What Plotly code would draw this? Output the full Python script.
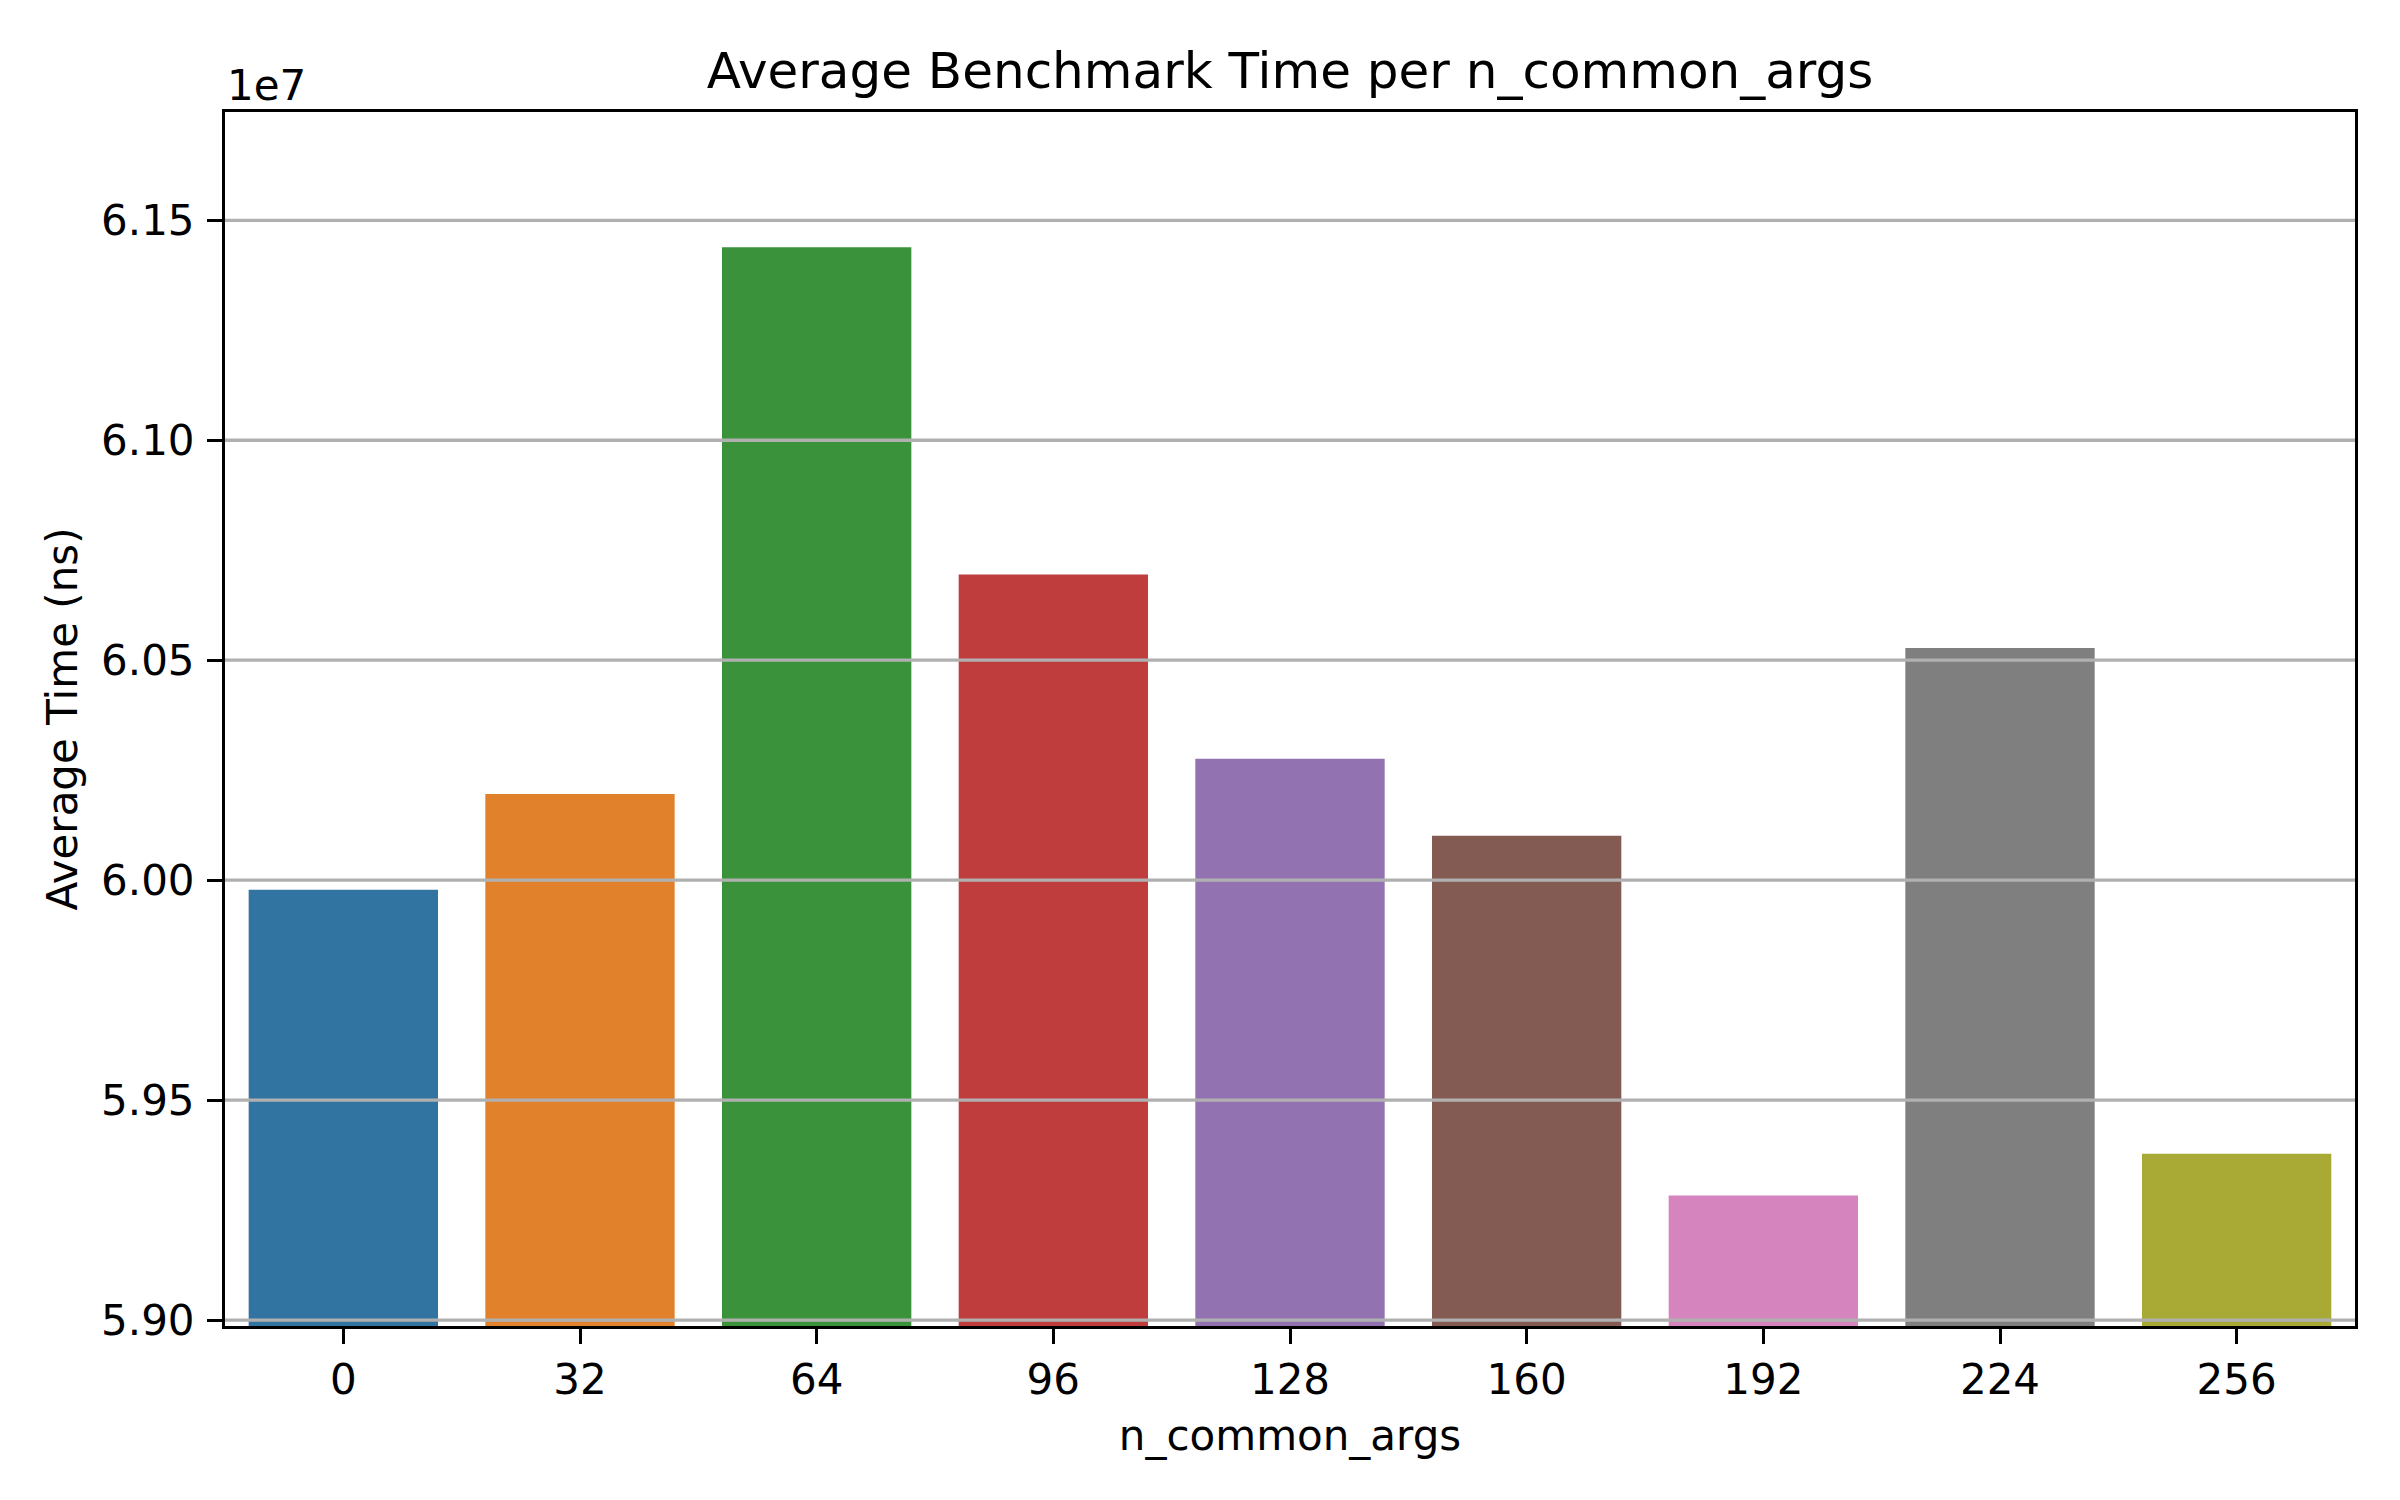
import plotly.graph_objs as go


# Average benchmark time (ns) per n_common_args
n_common_args = ["0", "32", "64", "96", "128", "160", "192", "224", "256"]
average_time_ns = [
    59978000, 60196000, 61439000, 60695000, 60276000,
    60101000, 59283000, 60528000, 59378000,
]
bar_colors = [
    "#3274a1", "#e1812c", "#3a923a", "#c03d3e", "#9372b2",
    "#845b53", "#d684bd", "#7f7f7f", "#a9aa35",
]
y_ticks = [5.90, 5.95, 6.00, 6.05, 6.10, 6.15]

FONT = "DejaVu Sans"
SCALE = 1e7


def visualize():
    values = [v / SCALE for v in average_time_ns]
    y_min = min(values) * 0.995
    y_max = max(values) * 1.005

    figure = go.Figure()
    figure.add_trace(go.Bar(
        x=n_common_args,
        y=values,
        marker={"color": bar_colors, "line": {"width": 0}},
        showlegend=False
    ))

    # the page body has an 8px margin, so the figure is a little smaller
    figure.update_layout(
        autosize=False,
        width=2392,
        height=1492,
        margin=dict(l=217, r=45, t=104, b=174),
        bargap=0.2,
        font=dict(family=FONT, size=42, color="black"),
        plot_bgcolor="white",
        paper_bgcolor="white",
        title=dict(
            text="Average Benchmark Time per n_common_args",
            font=dict(family=FONT, size=50, color="black"),
            x=0.5,
            xref="paper",
            xanchor="center",
            y=1,
            yref="paper",
            yanchor="bottom",
            pad=dict(b=24)
        )
    )
    figure.update_xaxes(
        type="category",
        range=[-0.5, len(n_common_args) - 0.5],
        title=dict(text="n_common_args", font=dict(size=42), standoff=18),
        showline=True,
        mirror=True,
        linecolor="black",
        linewidth=3,
        ticks="outside",
        ticklen=15,
        tickwidth=3,
        tickcolor="black",
        showgrid=False,
        ticklabelstandoff=0
    )
    figure.update_yaxes(
        range=[y_min, y_max],
        tickvals=y_ticks,
        tickformat=".2f",
        title=dict(text="Average Time (ns)", font=dict(size=42), standoff=11),
        showline=True,
        mirror=True,
        linecolor="black",
        linewidth=3,
        ticks="outside",
        ticklen=15,
        tickwidth=3,
        tickcolor="black",
        showgrid=False,
        zeroline=False,
        ticklabelstandoff=4
    )

    # matplotlib draws the y grid on top of the bars
    for tick in y_ticks:
        figure.add_shape(
            type="line", xref="paper", yref="y",
            x0=0, x1=1, y0=tick, y1=tick,
            line=dict(color="#b0b0b0", width=3.3),
            opacity=1,
            layer="above"
        )

    # offset text of the y axis
    figure.add_annotation(
        text="1e7", xref="paper", yref="paper",
        x=0, y=1, xanchor="left", yanchor="bottom",
        yshift=0, showarrow=False,
        font=dict(family=FONT, size=42, color="black")
    )

    figure.write_html("out.html")


if __name__ == '__main__':
    visualize()
